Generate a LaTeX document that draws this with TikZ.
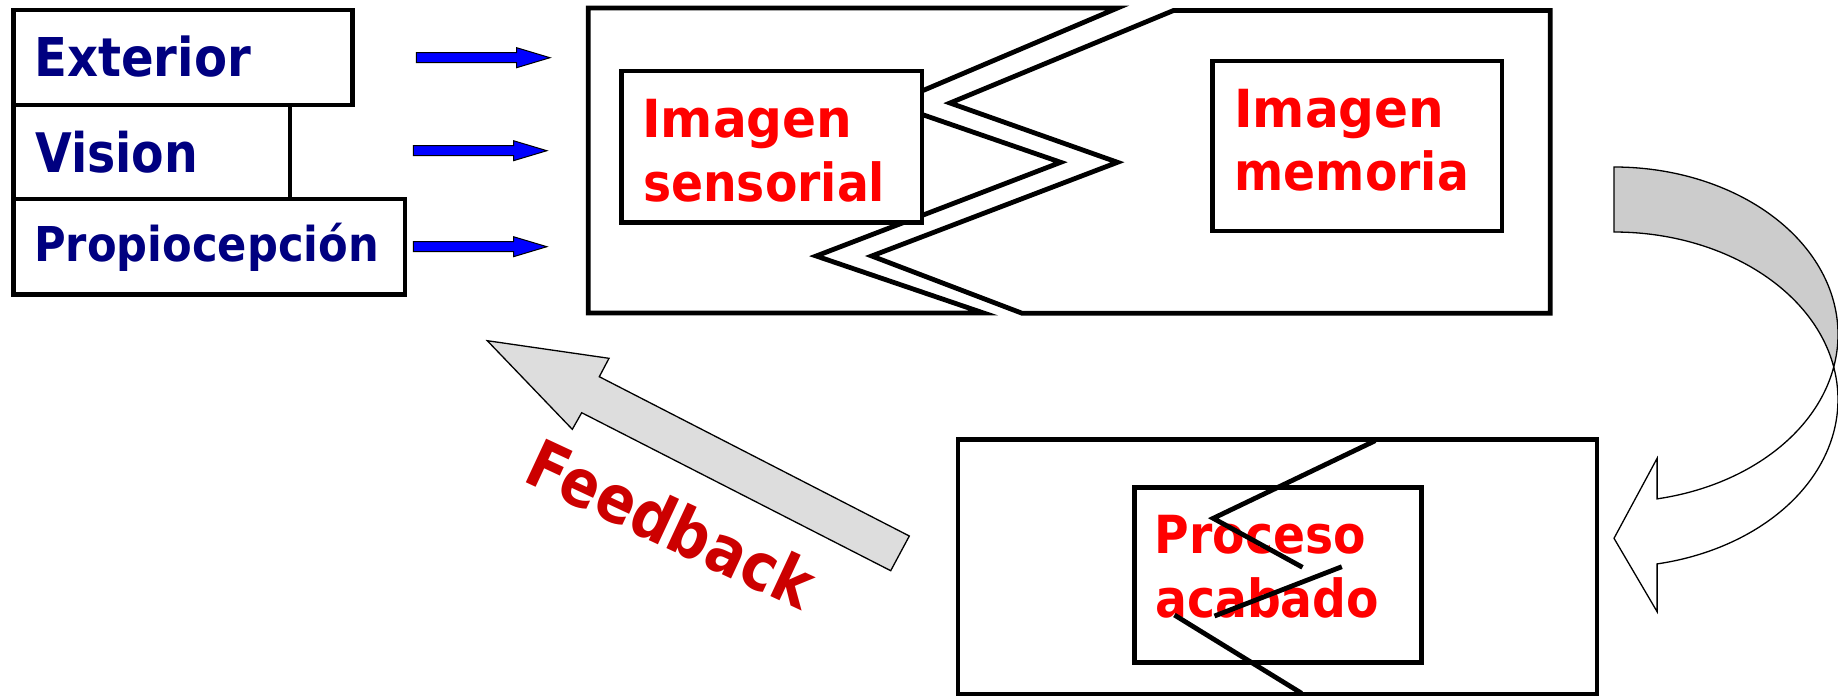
\documentclass[tikz,border=0pt]{standalone}
\usepackage{fontspec}
\newfontfamily\lbl{DejaVu Sans}[FakeStretch=0.87]
\newfontfamily\lblmid{DejaVu Sans}[FakeStretch=0.9]
\newfontfamily\lblwide{DejaVu Sans}[FakeStretch=0.955]
\definecolor{navy}{RGB}{0,0,128}
\definecolor{lblred}{RGB}{255,0,0}
\definecolor{fbred}{RGB}{204,0,0}
\definecolor{bandgray}{RGB}{204,204,204}
\definecolor{arrowgray}{RGB}{221,221,221}
\definecolor{inblue}{RGB}{0,0,255}
\tikzset{
  frame/.style={draw=black, line width=4.8pt},
  whitebox/.style={frame, fill=white},
  outline/.style={draw=black, line width=1.3pt, line join=miter},
  txt/.style={inner sep=0pt, anchor=base west,
    font=\lblmid\bfseries\fontsize{#1}{#1}\selectfont},
  narrowtxt/.style={txt=#1, font=\lbl\bfseries\fontsize{#1}{#1}\selectfont},
  widetxt/.style={txt=#1, font=\lblwide\bfseries\fontsize{#1}{#1}\selectfont},
  inarrow/.pic={
    \filldraw[fill=inblue, draw=black, line width=1pt]
      (0,-5) -- (100.2,-5) -- (100.2,-10) -- (133.6,0)
      -- (100.2,10) -- (100.2,5) -- (0,5) -- cycle;
  }
}
\begin{document}
\begin{tikzpicture}[x=1pt,y=-1pt]
\useasboundingbox (0,0) rectangle (1838,697);

% stacked input channels
\draw[frame] (13.8,10) rectangle (352.8,105);
\draw[frame] (13.8,105) rectangle (290,199);
\draw[frame] (13.8,199) rectangle (405,294.7);
\node[txt=53.5, text=navy] (exterior) at (34,76) {Exterior};
\node[narrowtxt=54.5, text=navy] (vision) at (35,172) {Vision};
\node[txt=48, text=navy] (propio) at (34,261) {Propiocepción};

% blue input arrows
\coordinate (in1) at (416.4,57.7);
\coordinate (in2) at (413.3,150.7);
\coordinate (in3) at (413.3,246.7);
\pic (arr1) at (in1) {inarrow};
\pic (arr2) at (in2) {inarrow};
\pic (arr3) at (in3) {inarrow};

% sensory frame and memory frame, interlocking zigzags
\draw[frame] (588.2,8) -- (1117.5,8) -- (891.4,103.9) -- (1060.7,162.3)
  -- (816.2,256) -- (983.6,313) -- (588.2,313) -- cycle;
\draw[frame] (1173.5,10.5) -- (1550.2,10.5) -- (1550.2,313.3) -- (1022.2,313.3)
  -- (871.7,256) -- (1117.5,162.3) -- (950,103) -- cycle;

\draw[whitebox] (621.8,71) rectangle (921.9,222.5);
\node[widetxt=52.5, text=lblred] (sens1) at (642,137) {Imagen};
\node[txt=52.5, text=lblred] (sens2) at (643,201.7) {sensorial};

\draw[whitebox] (1212.1,61) rectangle (1501.9,231);
\node[widetxt=52.5, text=lblred] (mem1) at (1234,127) {Imagen};
\node[txt=52.5, text=lblred] (mem2) at (1234.4,190.7) {memoria};

% curved arrow: back face, then front face with head
\filldraw[outline, fill=bandgray] (1614,167)
  arc[start angle=-90, end angle=11.19, x radius=224, y radius=167.5]
  arc[start angle=-11.19, end angle=-90, x radius=224, y radius=167.5]
  -- cycle;
\filldraw[outline, fill=white] (1833.7,367)
  arc[start angle=11.19, end angle=78.9, x radius=224, y radius=167.5]
  -- (1657.1,458.3) -- (1614,538.3) -- (1657.1,611.7) -- (1657.1,563.9)
  arc[start angle=78.9, end angle=-11.19, x radius=224, y radius=167.5]
  -- cycle;

% finished process
\draw[frame] (957.9,439.3) rectangle (1597,694);
\draw[whitebox] (1134.2,487.3) rectangle (1421.2,662.7);
\node[txt=52.5, text=lblred] (proc1) at (1154.7,553.3) {Proceso};
\node[txt=52.5, text=lblred] (proc2) at (1155,617.3) {acabado};
\draw[frame] (1375.2,440.7) -- (1213.2,518.3) -- (1302.5,567.3);
\draw[frame] (1341.8,566.7) -- (1214.5,616);
\draw[frame] (1174.4,615) -- (1301.6,693.3);

% feedback arrow
\filldraw[outline, fill=arrowgray] (487.3,340.7) -- (609,358.3) -- (599.3,376.7)
  -- (909.3,536) -- (890.7,570.7) -- (581.7,412.7) -- (572.3,429.3) -- cycle;
\node[narrowtxt=66, text=fbred, rotate=-25] (feedback) at (521.3,480.8) {Feedback};
\end{tikzpicture}
\end{document}
